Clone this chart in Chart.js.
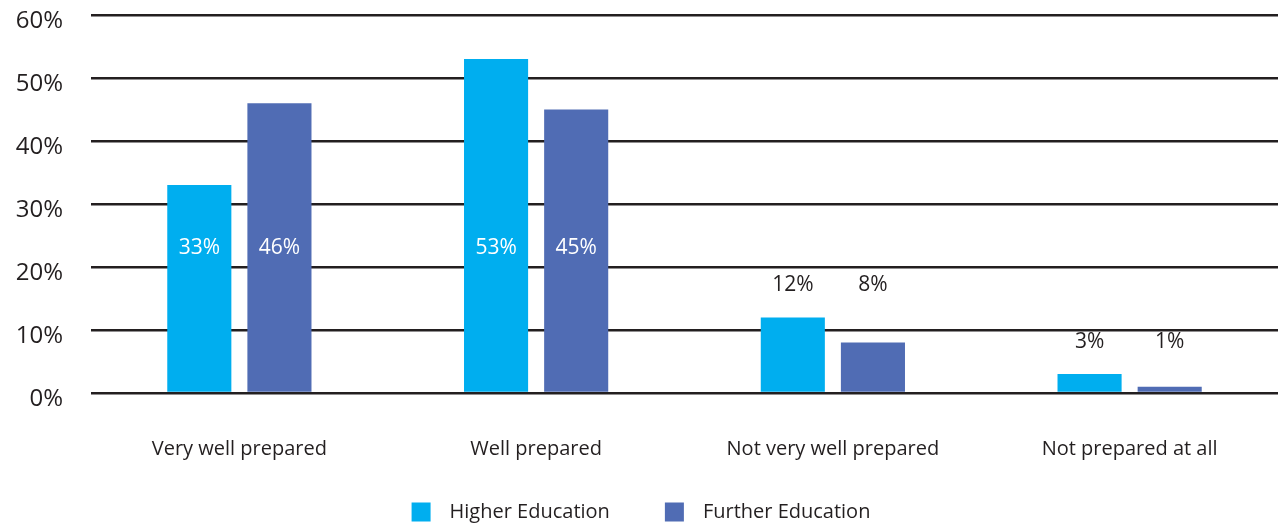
<!DOCTYPE html>
<html>
<head>
<meta charset="utf-8">
<script src="https://cdn.jsdelivr.net/npm/chart.js@4/dist/chart.umd.min.js"></script>
<style>
  html, body { margin: 0; padding: 0; background: #fff; }
  #wrap { width: 1286px; height: 529px; }
</style>
</head>
<body>
<div id="wrap"><canvas id="prep_chart"></canvas></div>
<script>
var categories = ["Very well prepared", "Well prepared", "Not very well prepared", "Not prepared at all"];
var higher_education = [33, 53, 12, 3];
var further_education = [46, 45, 8, 1];
var y_ticks = [0, 10, 20, 30, 40, 50, 60];

var ink = "#231f20";
var fontFamily = "'Open Sans', 'Noto Sans', sans-serif";

// value labels: big bars get a white label inside, small ones a dark label above the category's tallest bar
var valueLabels = {
  id: "valueLabels",
  afterDatasetsDraw: function(chart) {
    var ctx = chart.ctx;
    var yScale = chart.scales.y;
    ctx.save();
    ctx.font = "21px " + fontFamily;
    ctx.textAlign = "center";
    ctx.textBaseline = "middle";
    categories.forEach(function(c, i) {
      var vals = chart.data.datasets.map(function(d) { return d.data[i]; });
      var maxVal = Math.max.apply(null, vals);
      chart.data.datasets.forEach(function(ds, di) {
        var bar = chart.getDatasetMeta(di).data[i];
        var v = ds.data[i];
        if (maxVal >= 20) {
          ctx.fillStyle = "#ffffff";
          ctx.fillText(v + "%", bar.x, yScale.getPixelForValue(23));
        } else {
          ctx.fillStyle = ink;
          ctx.fillText(v + "%", bar.x, yScale.getPixelForValue(maxVal) - 32);
        }
      });
    });
    ctx.restore();
  }
};

// legend drawn by hand so the box/text gap and item spacing match
var bottomLegend = {
  id: "bottomLegend",
  afterDraw: function(chart) {
    var ctx = chart.ctx;
    var box = 19, gap = 19, spacing = 55, cy = 512;
    ctx.save();
    ctx.font = "20px " + fontFamily;
    ctx.textBaseline = "middle";
    ctx.textAlign = "left";
    var items = chart.data.datasets.map(function(ds) {
      return { text: ds.label, color: ds.backgroundColor, w: box + gap + ctx.measureText(ds.label).width };
    });
    var total = items.reduce(function(s, it) { return s + it.w; }, 0) + spacing * (items.length - 1);
    var x = (chart.width - total) / 2 - 2;
    items.forEach(function(it) {
      ctx.fillStyle = it.color;
      ctx.fillRect(x, cy - box / 2, box, box);
      ctx.fillStyle = ink;
      ctx.fillText(it.text, x + box + gap, cy);
      x += it.w + spacing;
    });
    ctx.restore();
  }
};

var chartdata = {
  labels: categories,
  datasets: [
    {
      label: "Higher Education",
      backgroundColor: "#00aeef",
      data: higher_education,
      categoryPercentage: 0.54,
      barPercentage: 0.8
    },
    {
      label: "Further Education",
      backgroundColor: "#506cb4",
      data: further_education,
      categoryPercentage: 0.54,
      barPercentage: 0.8
    }
  ]
};

var ctx = document.getElementById("prep_chart");

var barGraph = new Chart(ctx, {
  type: "bar",
  data: chartdata,
  plugins: [valueLabels, bottomLegend],
  options: {
    responsive: true,
    maintainAspectRatio: false,
    animation: false,
    layout: { padding: { top: 15, right: 8, bottom: 56, left: 0 } },
    plugins: {
      tooltip: { enabled: false },
      legend: { display: false }
    },
    scales: {
      x: {
        afterFit: function(scale) { scale.height = 80; },
        grid: { display: false },
        border: { display: false },
        ticks: {
          color: ink,
          font: { family: fontFamily, size: 20 },
          padding: 36,
          maxRotation: 0
        }
      },
      y: {
        min: 0,
        max: 60,
        afterBuildTicks: function(scale) {
          scale.ticks = y_ticks.map(function(v) { return { value: v }; });
        },
        afterFit: function(scale) {
          scale.width = 91;
          scale.paddingTop = 0;
          scale.paddingBottom = 0;
        },
        grid: { color: ink, lineWidth: 2.5, drawTicks: false },
        border: { display: false },
        ticks: {
          color: ink,
          font: { family: fontFamily, size: 24 },
          padding: 28,
          labelOffset: 6,
          callback: function(v) { return v + "%"; }
        }
      }
    }
  }
});
</script>
</body>
</html>
